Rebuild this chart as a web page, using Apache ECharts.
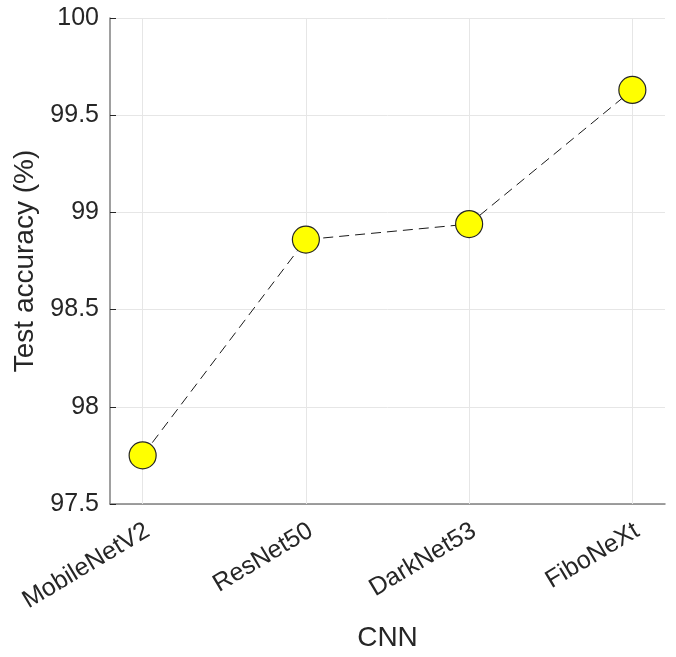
<!DOCTYPE html>
<html><head><meta charset="utf-8">
<script src="https://cdn.jsdelivr.net/npm/echarts@6/dist/echarts.min.js"></script>
<style>html,body{margin:0;padding:0;background:#fff}#c{width:676px;height:657px}</style>
</head><body><div id="c"></div>
<script>
const categories = ['MobileNetV2', 'ResNet50', 'DarkNet53', 'FiboNeXt'];
const accuracy = [97.75, 98.86, 98.94, 99.63];
const yTicks = [97.5, 98, 98.5, 99, 99.5, 100];

const positions = categories.map((c, i) => i + 1);
const labelPositions = positions.map(p => p + 0.03);
const seriesData = accuracy.map((v, i) => [positions[i], v]);
const font = 'Liberation Sans, Arial, Helvetica, sans-serif';
const chart = echarts.init(document.getElementById('c'));
chart.setOption({
  animation: false,
  grid: { left: 110, right: 11, top: 18, bottom: 152, containLabel: false },
  xAxis: {
    type: 'value', min: 0.8, max: 4.2,
    name: 'CNN', nameLocation: 'middle', nameGap: 120,
    nameTextStyle: { fontSize: 28, color: '#262626', fontFamily: font },
    axisLine: { show: true, onZero: false, lineStyle: { color: '#808080', width: 1.5 } },
    axisTick: { show: true, inside: true, length: 6, customValues: positions, lineStyle: { color: '#262626', width: 1 } },
    axisLabel: {
      customValues: labelPositions, rotate: 31, fontSize: 25, color: '#262626', fontFamily: font, margin: 25,
      formatter: v => categories[Math.round(v) - 1] || ''
    },
    splitLine: { show: false }
  },
  yAxis: {
    type: 'value', min: yTicks[0], max: yTicks[yTicks.length - 1], interval: 0.5,
    name: 'Test accuracy (%)', nameLocation: 'middle', nameGap: 69,
    nameTextStyle: { fontSize: 28, color: '#262626', fontFamily: font },
    axisLine: { show: true, lineStyle: { color: '#808080', width: 1.5 } },
    axisTick: { show: true, inside: true, length: 6, lineStyle: { color: '#262626', width: 1 } },
    axisLabel: { fontSize: 25, color: '#262626', fontFamily: font, margin: 11, formatter: v => String(v) },
    splitLine: { show: true, lineStyle: { color: '#e6e6e6', width: 1 } }
  },
  series: [{
    type: 'line',
    data: seriesData,
    symbol: 'circle', symbolSize: 27,
    itemStyle: { color: '#ffff00', borderColor: '#262626', borderWidth: 1.2 },
    lineStyle: { color: '#1a1a1a', width: 1, type: [10, 6] },
    z: 3,
    markLine: {
      silent: true, symbol: 'none', label: { show: false },
      lineStyle: { color: '#e6e6e6', width: 1, type: 'solid' },
      data: positions.map(p => ({ xAxis: p })),
      z: 1
    }
  }]
});
</script></body></html>
